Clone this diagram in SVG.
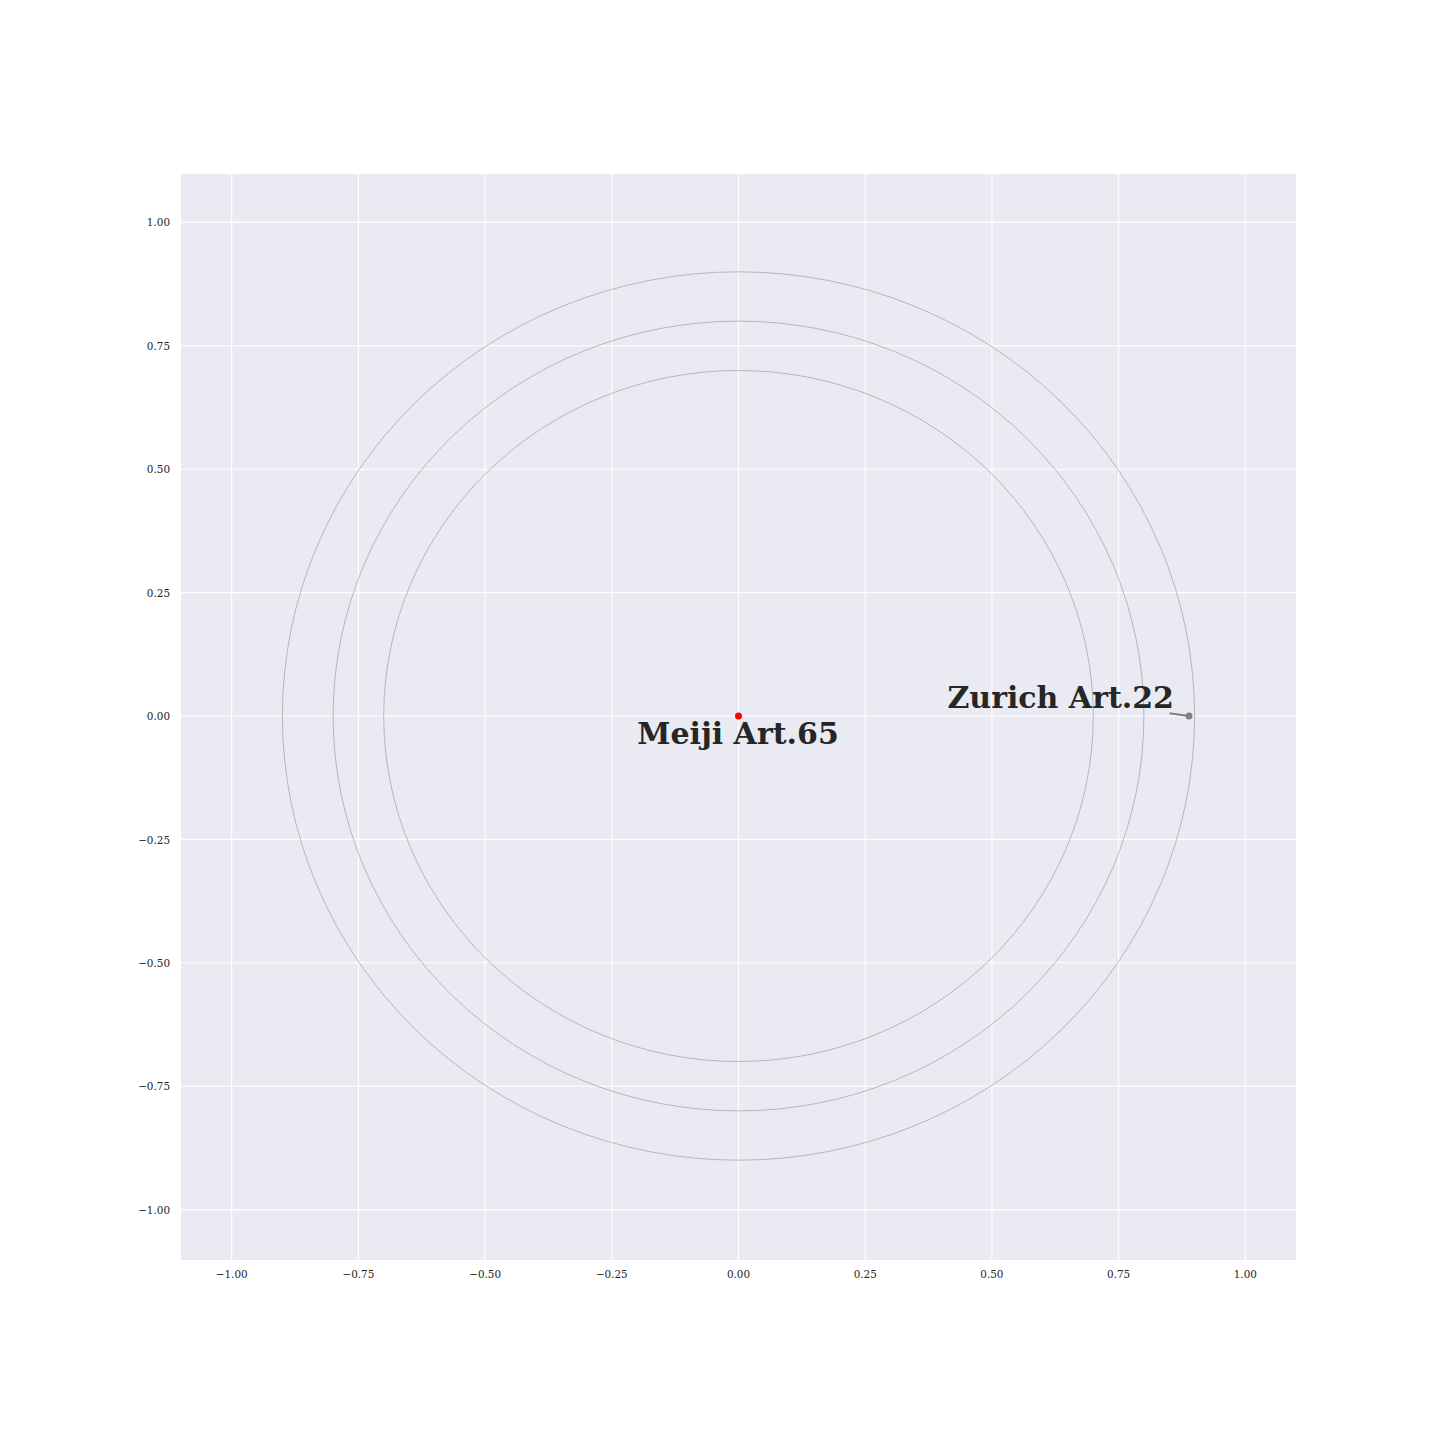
<svg xmlns="http://www.w3.org/2000/svg" width="1440" height="1440" viewBox="0 0 1440 1440">
<style>
.grid{stroke:#ffffff;stroke-width:1.1}
.ring{fill:none;stroke:#8c8c8c;stroke-width:0.55}
.tick{font-family:"DejaVu Serif",serif;font-size:10.4px;fill:#262626}
.lbl{font-family:"DejaVu Serif",serif;font-size:30px;font-weight:bold;fill:#262626}
</style>
<rect width="1440" height="1440" fill="#ffffff"/>
<rect x="181" y="174" width="1115" height="1086" fill="#eaeaf2"/>
<g id="gridlines">
<line class="grid" x1="231.7" y1="174" x2="231.7" y2="1260"/>
<line class="grid" x1="358.4" y1="174" x2="358.4" y2="1260"/>
<line class="grid" x1="485.1" y1="174" x2="485.1" y2="1260"/>
<line class="grid" x1="611.8" y1="174" x2="611.8" y2="1260"/>
<line class="grid" x1="738.5" y1="174" x2="738.5" y2="1260"/>
<line class="grid" x1="865.2" y1="174" x2="865.2" y2="1260"/>
<line class="grid" x1="991.9" y1="174" x2="991.9" y2="1260"/>
<line class="grid" x1="1118.6" y1="174" x2="1118.6" y2="1260"/>
<line class="grid" x1="1245.3" y1="174" x2="1245.3" y2="1260"/>
<line class="grid" x1="181" y1="222.4" x2="1296" y2="222.4"/>
<line class="grid" x1="181" y1="345.8" x2="1296" y2="345.8"/>
<line class="grid" x1="181" y1="469.2" x2="1296" y2="469.2"/>
<line class="grid" x1="181" y1="592.6" x2="1296" y2="592.6"/>
<line class="grid" x1="181" y1="716" x2="1296" y2="716"/>
<line class="grid" x1="181" y1="839.4" x2="1296" y2="839.4"/>
<line class="grid" x1="181" y1="962.8" x2="1296" y2="962.8"/>
<line class="grid" x1="181" y1="1086.2" x2="1296" y2="1086.2"/>
<line class="grid" x1="181" y1="1209.6" x2="1296" y2="1209.6"/>
</g>
<g id="ticklabels" class="tick">
<g text-anchor="end">
<text x="170" y="226">1.00</text>
<text x="170" y="349.5">0.75</text>
<text x="170" y="473">0.50</text>
<text x="170" y="596.5">0.25</text>
<text x="170" y="720">0.00</text>
<text x="170" y="843.5">−0.25</text>
<text x="170" y="966.5">−0.50</text>
<text x="170" y="1090">−0.75</text>
<text x="170" y="1213.5">−1.00</text>
</g>
<g text-anchor="middle">
<text x="231.7" y="1278">−1.00</text>
<text x="358.4" y="1278">−0.75</text>
<text x="485.1" y="1278">−0.50</text>
<text x="611.8" y="1278">−0.25</text>
<text x="738.5" y="1278">0.00</text>
<text x="865.2" y="1278">0.25</text>
<text x="991.9" y="1278">0.50</text>
<text x="1118.6" y="1278">0.75</text>
<text x="1245.3" y="1278">1.00</text>
</g>
</g>
<g id="rings">
<ellipse class="ring" cx="738.5" cy="716" rx="354.8" ry="345.5"/>
<ellipse class="ring" cx="738.5" cy="716" rx="405.4" ry="394.9"/>
<ellipse class="ring" cx="738.5" cy="716" rx="456.1" ry="444.2"/>
</g>
<g id="connectors">
<line x1="1169.5" y1="713.3" x2="1189" y2="716" stroke="#808080" stroke-width="2"/>
</g>
<g id="node-meiji">
<circle cx="738.5" cy="716" r="3.5" fill="#ff0000"/>
<text class="lbl" x="738" y="744" text-anchor="middle">Meiji Art.65</text>
</g>
<g id="node-zurich">
<circle cx="1189" cy="716" r="3.5" fill="#808080"/>
<text class="lbl" x="1174" y="708" text-anchor="end">Zurich Art.22</text>
</g>
</svg>
